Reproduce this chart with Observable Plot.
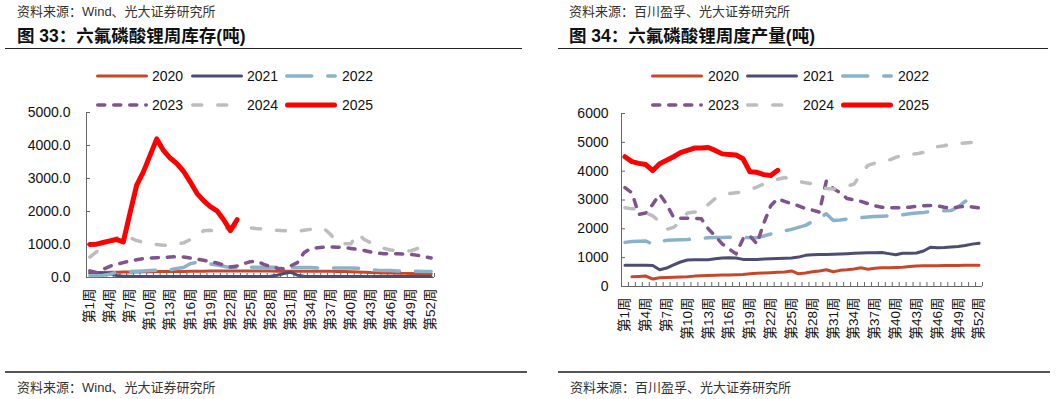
<!DOCTYPE html>
<html><head><meta charset="utf-8">
<script src="https://cdn.jsdelivr.net/npm/d3@7"></script>
<script src="https://cdn.jsdelivr.net/npm/@observablehq/plot@0.6"></script>
<style>
body{margin:0;background:#fff;width:1062px;height:399px;position:relative;overflow:hidden;font-family:"Liberation Sans","Noto Sans CJK SC",sans-serif;}
.t{position:absolute;white-space:nowrap;}
.src{font-size:13px;line-height:16px;color:#333;}
.title{font-size:17.5px;line-height:22px;font-weight:bold;color:#111;}
.leg{font-size:14px;line-height:16px;color:#111;}
.rule{position:absolute;height:0;border-top:1.5px solid #222;}
.brule{position:absolute;height:0;border-top:2px solid #555;}
svg.chart{position:absolute;left:0;top:100px;overflow:visible;}
</style></head><body>
<script>
// ---------- data ----------
const years = ["2020","2021","2022","2023","2024","2025"];
const weeks = d3.range(1, 53);
const labelWeeks = [1,4,7,10,13,16,19,22,25,28,31,34,37,40,43,46,49,52];

// 图33 六氟磷酸锂周库存(吨)
const inv2020 = [150,150,155,160,160,165,170,170,175,175,180,180,180,185,185,190,190,190,195,195,195,200,200,200,200,200,195,195,190,190,190,190,190,190,190,190,190,185,180,175,170,160,150,145,140,135,130,125,120,115,110,110];
const inv2021 = [130,130,130,120,60,40,35,30,30,30,30,30,30,30,30,30,30,30,30,30,30,30,30,30,30,30,30,40,70,120,160,70,40,30,30,30,30,30,30,30,30,30,30,30,30,30,30,30,30,30,30,30];
const inv2022 = [60,60,70,100,160,170,180,190,200,210,220,230,240,270,300,420,460,440,410,380,340,300,290,300,310,310,310,310,310,310,300,300,300,300,290,290,290,290,290,290,280,260,240,220,210,210,200,200,190,190,180,180];
const inv2023 = [200,150,250,340,400,450,500,540,570,590,600,610,620,630,620,590,560,520,480,440,380,320,350,420,480,490,400,330,280,260,350,450,750,880,900,920,930,920,910,880,850,820,770,740,720,720,720,710,700,670,630,590];
const inv2024 = [620,780,1000,1120,1200,1280,1200,1120,1060,1020,1000,980,980,1010,1050,1150,1250,1420,1430,1400,1450,1530,1550,1530,1500,1480,1470,1450,1430,1420,1400,1400,1430,1460,1490,1480,1300,1050,1020,1020,1350,1150,1050,950,880,830,820,800,810,880,930,940];
const inv2025 = [1000,1010,1060,1110,1150,1080,1950,2800,3200,3700,4200,3850,3620,3450,3220,2900,2550,2330,2150,2020,1750,1420,1750];

// 图34 六氟磷酸锂周度产量(吨)
const prod2020 = [null,340,350,360,260,300,310,320,330,340,360,370,380,390,400,400,410,420,440,460,470,480,490,500,540,440,470,510,540,580,510,560,580,610,650,600,630,650,650,660,670,690,710,720,720,720,730,730,730,740,740,740];
const prod2021 = [740,740,740,740,730,580,640,750,850,920,930,930,930,960,990,1000,990,940,940,940,950,960,970,980,990,1020,1080,1100,1110,1110,1120,1130,1140,1150,1160,1170,1170,1180,1140,1100,1150,1150,1160,1230,1360,1340,1350,1370,1390,1420,1470,1500];
const prod2022 = [1530,1560,1570,1580,1460,1560,1600,1610,1620,1630,1650,1670,1690,1700,1700,1710,1710,1700,1690,1690,1750,1820,1880,1930,1980,2050,2120,2250,2380,2520,2290,2310,2340,2360,2390,2410,2430,2440,2450,2470,2490,2520,2550,2570,2600,2620,2630,2640,2760,2950,3100];
const prod2023 = [3430,3250,2500,2550,2850,3200,2850,2400,2370,2370,2360,2350,2000,1750,1480,1300,1130,1650,1750,1480,2200,2800,3050,2950,2870,2800,2700,2650,2580,3650,3400,3250,3050,3000,2950,2870,2800,2750,2730,2730,2730,2750,2780,2800,2810,2800,2750,2720,2760,2780,2760,2730];
const prod2024 = [2730,2700,2680,2550,2450,2250,1980,2050,2250,2550,2580,2580,2850,3050,3150,3220,3250,3280,3350,3450,3560,3650,3720,3780,3700,3640,3600,3560,3480,3400,3380,3440,3480,3550,3920,4200,4280,4330,4380,4480,4550,4580,4600,4650,4780,4850,4880,4950,4960,4980,5000,5010];
const prod2025 = [4500,4330,4270,4230,4020,4260,4380,4500,4640,4720,4800,4800,4820,4720,4600,4580,4560,4430,3980,3960,3880,3850,4030];

const invTicks = [0,1000,2000,3000,4000,5000];
const prodTicks = [0,1000,2000,3000,4000,5000,6000];

// ---------- styles ----------
const seriesStyle = {
  "2020": {color:"#C8472B", width:3, dash:null},
  "2021": {color:"#4D4C72", width:3, dash:null},
  "2022": {color:"#8AB3CB", width:3.5, dash:"25,16"},
  "2023": {color:"#7F538B", width:3.5, dash:"7,9"},
  "2024": {color:"#BDBDBD", width:3.5, dash:"9,16"},
  "2025": {color:"#FF0000", width:5, dash:null}
};
const FONT = '"Liberation Sans","Noto Sans CJK SC",sans-serif';

function addText(parent, cls, text, x, y) {
  const d = document.createElement("div");
  d.className = "t " + cls;
  d.textContent = text;
  d.style.left = x + "px"; d.style.top = y + "px";
  parent.appendChild(d);
}
function addRule(parent, cls, x, y, w) {
  const d = document.createElement("div");
  d.className = cls;
  d.style.left = x + "px"; d.style.top = y + "px"; d.style.width = w + "px";
  parent.appendChild(d);
}
function addLegend(parent, swX, txtX) {
  years.forEach((yr, i) => {
    const row = Math.floor(i / 3), col = i % 3;
    const cy = row === 0 ? 76 : 105;
    const s = seriesStyle[yr];
    const ns = "http://www.w3.org/2000/svg";
    const svg = document.createElementNS(ns, "svg");
    svg.setAttribute("width", 54); svg.setAttribute("height", 12);
    svg.style.cssText = `position:absolute;left:${swX[col]-1}px;top:${cy-6}px;overflow:visible`;
    const ln = document.createElementNS(ns, "line");
    ln.setAttribute("x1", 1 + s.width/2); ln.setAttribute("x2", 53 - s.width/2);
    ln.setAttribute("y1", 6); ln.setAttribute("y2", 6);
    ln.setAttribute("stroke", s.color); ln.setAttribute("stroke-width", s.width);
    ln.setAttribute("stroke-linecap", "round");
    if (s.dash) ln.setAttribute("stroke-dasharray", s.dash);
    svg.appendChild(ln);
    parent.appendChild(svg);
    addText(parent, "leg", yr, txtX[col], cy - 8);
  });
}

function chart(seriesArrays, cfg) {
  const boundaries = d3.range(0.5, 53, 1);
  const lineMarks = years.map((yr, i) => {
    const s = seriesStyle[yr];
    const data = seriesArrays[i].map((v, j) => ({w: weeks[j], v}));
    return Plot.line(data, {
      x: "w", y: "v", stroke: s.color, strokeWidth: s.width,
      strokeDasharray: s.dash || undefined, strokeLinecap: "round", strokeLinejoin: "round"
    });
  });
  return Plot.plot({
    width: 531, height: cfg.height,
    marginLeft: cfg.ml, marginRight: cfg.mr, marginTop: cfg.mt, marginBottom: cfg.mb,
    className: "chart",
    style: {fontFamily: FONT, fontSize: "14px", color: "#111", background: "transparent", overflow: "visible"},
    x: {type: "linear", domain: [0.5, 52.5], label: null},
    y: {domain: cfg.yDomain, label: null},
    marks: [
      Plot.axisY(cfg.yTicks, {tickSize: 0, tickPadding: cfg.yPad, tickFormat: cfg.yFmt, fontSize: 14, label: null}),
      Plot.axisY(cfg.yTicks, {tickSize: -4, tickFormat: () => "", stroke: "#666", label: null}),
      Plot.axisX(labelWeeks, {tickSize: 0, tickPadding: 11, tickRotate: -90, tickFormat: w => `第${w}周`, fontSize: 13.5, label: null}),
      Plot.axisX(boundaries, {tickSize: -4, tickFormat: () => "", stroke: "#666", label: null}),
      Plot.ruleX([0.5], {stroke: "#666"}),
      Plot.ruleY([0], {stroke: "#666"}),
      ...lineMarks
    ]
  });
}

// ---------- left panel ----------
const L = document.createElement("div");
L.style.cssText = "position:absolute;left:0;top:0;width:531px;height:399px;";
document.body.appendChild(L);
addText(L, "src", "资料来源：Wind、光大证券研究所", 17, 4);
addText(L, "title", "图 33：六氟磷酸锂周库存(吨)", 17, 25);
addRule(L, "rule", 5, 48, 517);
addLegend(L, [96,191,285], [152,247,342]);
L.appendChild(chart([inv2020,inv2021,inv2022,inv2023,inv2024,inv2025], {
  height: 247, ml: 86, mr: 97, mt: 12, mb: 70,
  yDomain: [0, 5000], yTicks: invTicks, yFmt: d3.format(".1f"), yPad: 16
}));
addRule(L, "brule", 5, 371, 522);
addText(L, "src", "资料来源：Wind、光大证券研究所", 17, 380);

// ---------- right panel ----------
const R = document.createElement("div");
R.style.cssText = "position:absolute;left:531px;top:0;width:531px;height:399px;";
document.body.appendChild(R);
addText(R, "src", "资料来源：百川盈孚、光大证券研究所", 38, 4);
addText(R, "title", "图 34：六氟磷酸锂周度产量(吨)", 38, 25);
addRule(R, "rule", 27, 48, 490);
addLegend(R, [120,215,310], [177,272,367]);
R.appendChild(chart([prod2020,prod2021,prod2022,prod2023,prod2024,prod2025], {
  height: 246, ml: 90, mr: 80, mt: 13, mb: 60,
  yDomain: [0, 6000], yTicks: prodTicks, yFmt: d3.format("d"), yPad: 13
}));
addRule(R, "brule", 27, 371, 492);
addText(R, "src", "资料来源：百川盈孚、光大证券研究所", 39, 380);
</script>
</body></html>
